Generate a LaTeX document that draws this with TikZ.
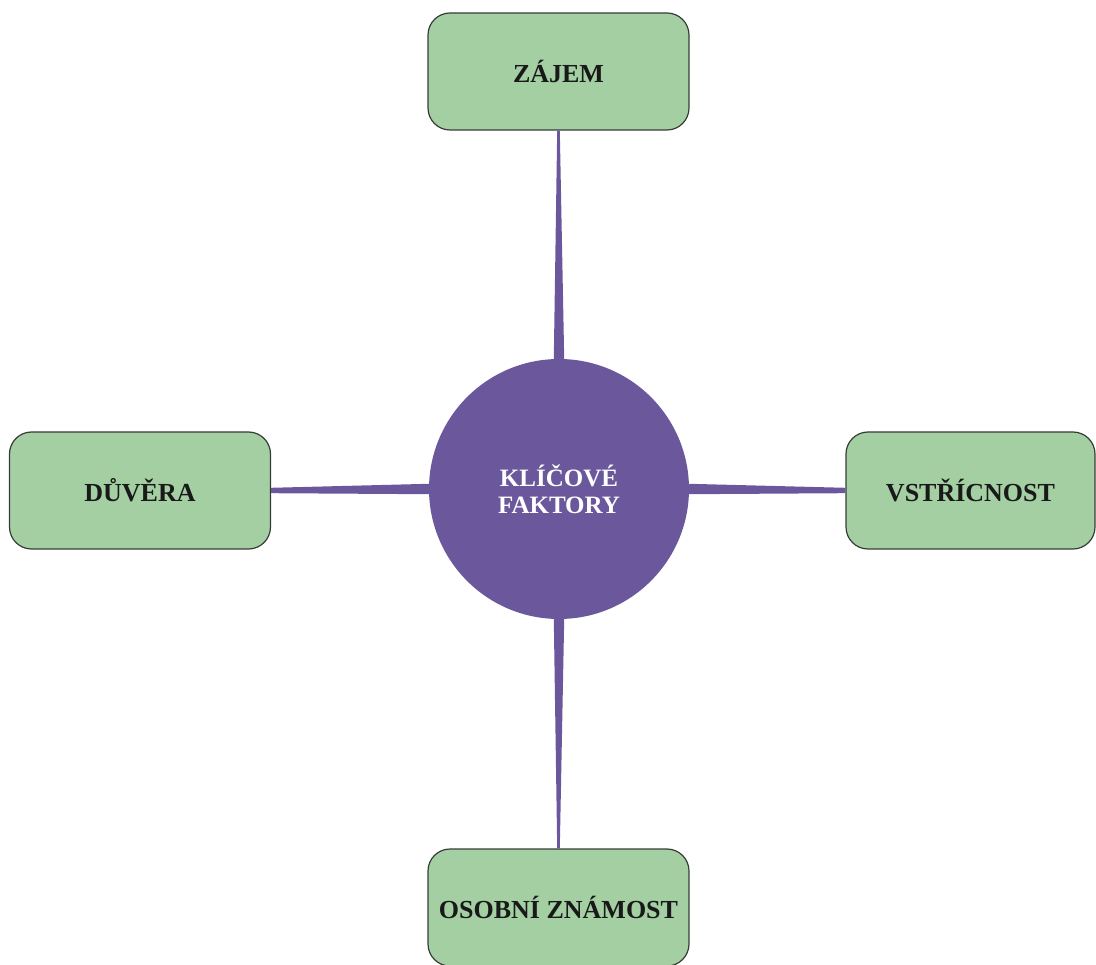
\documentclass[tikz,border=0pt]{standalone}
\usepackage{fontspec}
\setmainfont{Liberation Serif}
\usetikzlibrary{calc}
\definecolor{leafgreen}{RGB}{163,207,163}
\definecolor{corepurple}{RGB}{107,88,156}
\definecolor{leafedge}{RGB}{55,60,55}
\tikzset{leaf/.style={draw=leafedge,fill=leafgreen,rounded corners=22pt,line width=1.2pt,
 minimum width=261pt,minimum height=117pt,inner sep=0pt,text=black!90,
 font=\bfseries\fontsize{26}{28}\selectfont},
 core/.style={circle,fill=corepurple,minimum size=260pt,inner sep=0pt,text=white,
 align=center,font=\bfseries\fontsize{25}{27}\selectfont},
 spoke/.style={fill=corepurple}}

\begin{document}
\begin{tikzpicture}[x=1pt,y=-1pt]
\useasboundingbox (0,0) rectangle (1096,965);
\node[core] (core) at (559,489) {KLÍČOVÉ\\FAKTORY};
\node[leaf] (zajem) at (558.5,71.5) {ZÁJEM};
\node[leaf] (duvera) at (140,490.5) {DŮVĚRA};
\node[leaf,minimum width=249pt] (vstricnost) at (970.5,490.5) {VSTŘÍCNOST};
\node[leaf] (osobni) at (558.5,907.5) {OSOBNÍ ZNÁMOST};
% tapered spokes from the circle to the boxes
\foreach \leaf/\from/\to/\tip in {zajem/north/south/1.3,duvera/west/east/2.7,
 vstricnost/east/west/2.7,osobni/south/north/1.3} {
\fill[spoke] ($(core.\from)!5.2pt!90:(\leaf.\to)$) -- ($(\leaf.\to)!\tip pt!-90:(core.\from)$)
 -- ($(\leaf.\to)!\tip pt!90:(core.\from)$) -- ($(core.\from)!5.2pt!-90:(\leaf.\to)$) -- cycle;
}
\end{tikzpicture}
\end{document}
